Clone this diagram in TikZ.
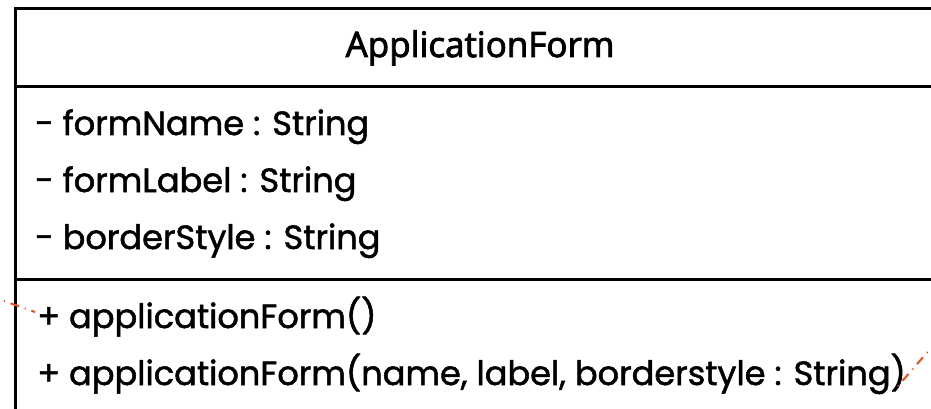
\documentclass[tikz,border=0pt]{standalone}
\usepackage{fontspec}
\newfontfamily\bodyfont{Poppins}[UprightFeatures={FakeBold=1.5}]
\newfontfamily\titlefont{Open Sans}[UprightFeatures={FakeBold=2.5}]
\begin{document}
\begin{tikzpicture}[x=1pt,y=-1pt,
  frame/.style={line width=3pt,black},
  member/.style={anchor=base west,inner sep=0pt,font=\bodyfont\fontsize{33.6}{34}\selectfont},
  heading/.style={anchor=base,inner sep=0pt,font=\titlefont\fontsize{35}{35}\selectfont},
  assoc/.style={draw={rgb,255:red,230;green,80;blue,30},line width=2pt,
    dash pattern=on 1pt off 6pt on 9pt off 6pt}]
\useasboundingbox (0,0) rectangle (931,409);
\fill[white] (0,0) rectangle (931,409);

% class frame: left side, top, and the two compartment rules
\draw[frame] (15,420) -- (15,9) -- (940,9);
\draw[frame] (15,87) -- (940,87);
\draw[frame] (15,279) -- (940,279);

% class name
\node[heading] (name) at (480,57) {ApplicationForm};

% attributes
\node[member] (a1) at (35,135) {- formName : String};
\node[member] (a2) at (35,192) {- formLabel : String};
\node[member] (a3) at (35,249) {- borderStyle : String};

% operations
\node[member] (o1) at (37,328) {+ applicationForm()};
\node[member] (o2) at (37,385) {+ applicationForm(name, label, borderstyle : String)};

% association lines ending at the class
\coordinate (l0) at (4,301);
\coordinate (l1) at (35,312);
\coordinate (r0) at (898,386);
\coordinate (r1) at (931,348);
\draw[assoc] (l0) -- (l1);
\draw[assoc] (r0) -- (r1);
\end{tikzpicture}
\end{document}
